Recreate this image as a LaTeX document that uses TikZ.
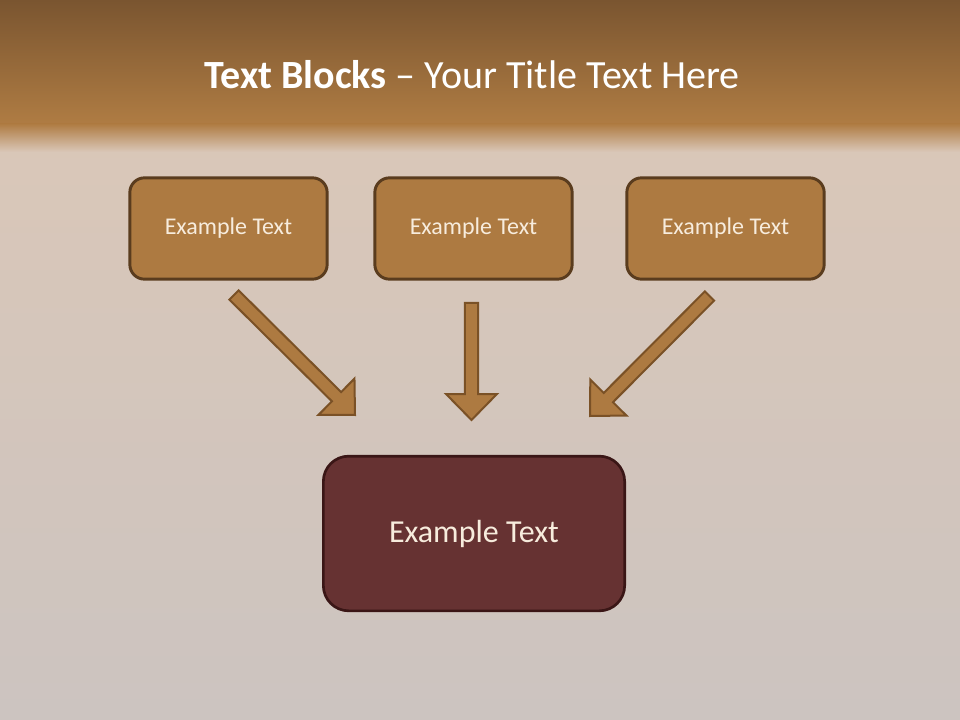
\documentclass[tikz,border=0pt]{standalone}
\usepackage{fontspec}
\setmainfont{Carlito}
\usepackage{tikz}
\usetikzlibrary{calc}
\definecolor{bandtop}{HTML}{7A5530}
\definecolor{bandlow}{HTML}{AF7C43}
\definecolor{paperhi}{HTML}{DAC7B8}
\definecolor{paperlo}{HTML}{CCC4C0}
\definecolor{blockfill}{HTML}{AD7A41}
\definecolor{blockline}{HTML}{5A3C1E}
\definecolor{arrowline}{HTML}{7A5126}
\definecolor{targetfill}{HTML}{663232}
\definecolor{targetline}{HTML}{3A1616}
\definecolor{blocktext}{HTML}{F7ECDD}

\begin{document}
\begin{tikzpicture}[
    x=0.75pt, y=-0.75pt,
    block/.style={
        draw=blockline, fill=blockfill, line width=2.2pt,
        rounded corners=11pt, minimum width=148pt, minimum height=76pt,
        font=\fontsize{18}{21}\selectfont, text=blocktext, align=center
    },
    target/.style={
        draw=targetline, fill=targetfill, line width=2pt,
        rounded corners=19pt, minimum width=226pt, minimum height=116pt,
        font=\fontsize{24}{28}\selectfont, text=blocktext, align=center
    },
    blockarrow/.style={draw=arrowline, fill=blockfill, line width=1.5pt, line join=miter}
]

% Background
\useasboundingbox (0,0) rectangle (960,720);
\shade[top color=paperhi, bottom color=paperlo] (0,120) rectangle (960,720);
\shade[top color=bandtop, bottom color=bandlow] (0,0) rectangle (960,124);
\shade[top color=bandlow, bottom color=paperhi] (0,124) rectangle (960,152);

% Title
\node[text=white, font=\fontsize{30}{34}\selectfont] (title) at (472,75)
    {\textbf{Text Blocks} -- Your Title Text Here};

% Blocks
\node[block] (b1) at (228.5,228.5) {Example Text};
\node[block] (b2) at (473.5,228.5) {Example Text};
\node[block] (b3) at (725.5,228.5) {Example Text};

% Target
\node[target] (t) at (474,533.5) {Example Text};

% Arrow ends
\coordinate (a1s) at (234,295);   \coordinate (a1e) at (355,415);
\coordinate (a2s) at (471.5,303); \coordinate (a2e) at (471.5,420);
\coordinate (a3s) at (709.5,296); \coordinate (a3e) at (590,416);

% Block arrows
\foreach \s/\e in {a1s/a1e, a2s/a2e, a3s/a3e} {
    \coordinate (h) at ($(\e)!19.5pt!(\s)$);
    \draw[blockarrow] ($(\s)!4.9pt!90:(\e)$) -- ($(h)!4.9pt!90:(\e)$)
        -- ($(h)!19.1pt!90:(\e)$) -- (\e) -- ($(h)!19.1pt!-90:(\e)$)
        -- ($(h)!4.9pt!-90:(\e)$) -- ($(\s)!4.9pt!-90:(\e)$) -- cycle;
}

\end{tikzpicture}
\end{document}
